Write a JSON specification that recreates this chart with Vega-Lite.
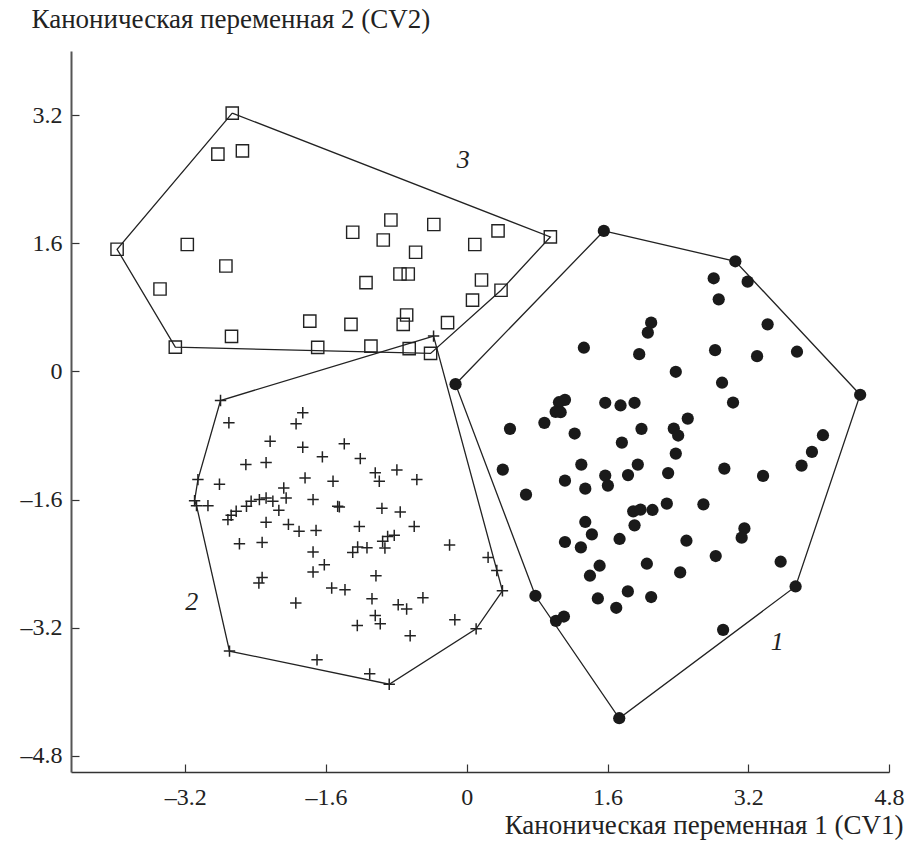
{
  "$schema": "https://vega.github.io/schema/vega-lite/v6.json",
  "width": 818,
  "height": 721,
  "autosize": {"type": "none"},
  "padding": {"left": 71, "top": 51, "right": 18, "bottom": 83},
  "background": "white",
  "config": {"view": {"stroke": null}, "font": "Liberation Serif"},
  "datasets": {
    "g1": [
      {"x":1.558,"y":1.754},{"x":3.053,"y":1.375},{"x":2.807,"y":1.163},{"x":3.193,"y":1.121},{"x":2.864,"y":0.9},
      {"x":2.096,"y":0.609},{"x":2.058,"y":0.484},{"x":3.42,"y":0.588},{"x":1.331,"y":0.296},{"x":1.96,"y":0.216},
      {"x":2.823,"y":0.266},{"x":3.3,"y":0.191},{"x":3.754,"y":0.246},{"x":2.376,"y":-0.004},{"x":-0.128,"y":-0.159},
      {"x":4.472,"y":-0.291},{"x":2.902,"y":-0.141},{"x":3.027,"y":-0.388},{"x":1.116,"y":-0.354},{"x":1.048,"y":-0.384},
      {"x":1.01,"y":-0.504},{"x":1.067,"y":-0.509},{"x":1.574,"y":-0.391},{"x":1.748,"y":-0.425},{"x":1.907,"y":-0.391},
      {"x":2.512,"y":-0.588},{"x":0.491,"y":-0.716},{"x":0.882,"y":-0.641},{"x":1.226,"y":-0.775},{"x":1.986,"y":-0.716},
      {"x":2.353,"y":-0.713},{"x":2.403,"y":-0.8},{"x":1.763,"y":-0.888},{"x":2.376,"y":-1.025},{"x":4.049,"y":-0.796},
      {"x":3.924,"y":-1.004},{"x":3.806,"y":-1.175},{"x":0.409,"y":-1.225},{"x":1.302,"y":-1.163},{"x":1.944,"y":-1.163},
      {"x":2.928,"y":-1.213},{"x":2.289,"y":-1.269},{"x":3.368,"y":-1.304},{"x":1.116,"y":-1.363},{"x":1.574,"y":-1.3},
      {"x":1.833,"y":-1.294},{"x":1.347,"y":-1.463},{"x":1.604,"y":-1.425},{"x":0.673,"y":-1.538},{"x":1.892,"y":-1.746},
      {"x":1.975,"y":-1.725},{"x":2.111,"y":-1.729},{"x":2.274,"y":-1.65},{"x":2.69,"y":-1.659},{"x":1.347,"y":-1.879},
      {"x":1.907,"y":-1.921},{"x":1.422,"y":-2.034},{"x":1.116,"y":-2.129},{"x":1.297,"y":-2.196},{"x":1.737,"y":-2.091},
      {"x":2.497,"y":-2.113},{"x":3.156,"y":-1.959},{"x":3.125,"y":-2.075},{"x":2.83,"y":-2.304},{"x":3.568,"y":-2.375},
      {"x":1.51,"y":-2.425},{"x":1.4,"y":-2.55},{"x":2.047,"y":-2.4},{"x":2.426,"y":-2.509},{"x":0.78,"y":-2.8},
      {"x":3.738,"y":-2.684},{"x":1.49,"y":-2.834},{"x":1.831,"y":-2.746},{"x":2.096,"y":-2.816},{"x":1.699,"y":-2.95},
      {"x":1.014,"y":-3.113},{"x":1.104,"y":-3.059},{"x":2.914,"y":-3.225},{"x":1.733,"y":-4.329}
    ],
    "g2": [
      {"x":-0.378,"y":0.441},{"x":-2.8,"y":-0.363},{"x":-2.705,"y":-0.641},{"x":-1.865,"y":-0.516},{"x":-1.941,"y":-0.654},
      {"x":-2.236,"y":-0.871},{"x":-1.865,"y":-0.946},{"x":-1.393,"y":-0.904},{"x":-1.642,"y":-1.066},{"x":-1.211,"y":-1.088},
      {"x":-2.512,"y":-1.163},{"x":-2.282,"y":-1.138},{"x":-1.041,"y":-1.266},{"x":-0.795,"y":-1.229},{"x":-0.995,"y":-1.371},
      {"x":-0.568,"y":-1.35},{"x":-3.057,"y":-1.35},{"x":-2.812,"y":-1.409},{"x":-1.839,"y":-1.329},{"x":-1.521,"y":-1.371},
      {"x":-2.081,"y":-1.454},{"x":-3.095,"y":-1.613},{"x":-3.073,"y":-1.675},{"x":-2.943,"y":-1.675},{"x":-2.452,"y":-1.621},
      {"x":-2.358,"y":-1.6},{"x":-2.282,"y":-1.579},{"x":-2.205,"y":-1.621},{"x":-2.054,"y":-1.579},{"x":-1.748,"y":-1.6},
      {"x":-1.468,"y":-1.684},{"x":-1.449,"y":-1.691},{"x":-0.965,"y":-1.709},{"x":-0.757,"y":-1.754},{"x":-2.505,"y":-1.684},
      {"x":-2.622,"y":-1.746},{"x":-2.679,"y":-1.796},{"x":-2.716,"y":-1.85},{"x":-2.137,"y":-1.734},{"x":-2.282,"y":-1.884},
      {"x":-2.028,"y":-1.909},{"x":-1.907,"y":-1.996},{"x":-1.714,"y":-1.984},{"x":-1.222,"y":-1.934},{"x":-0.598,"y":-1.934},
      {"x":-0.9,"y":-2.059},{"x":-0.825,"y":-2.046},{"x":-0.957,"y":-2.121},{"x":-0.931,"y":-2.204},{"x":-2.585,"y":-2.15},
      {"x":-2.327,"y":-2.134},{"x":-1.748,"y":-2.254},{"x":-1.297,"y":-2.259},{"x":-1.241,"y":-2.191},{"x":-1.135,"y":-2.2},
      {"x":-0.196,"y":-2.166},{"x":0.242,"y":-2.321},{"x":0.341,"y":-2.484},{"x":0.405,"y":-2.738},{"x":-1.62,"y":-2.413},
      {"x":-1.748,"y":-2.504},{"x":-1.033,"y":-2.55},{"x":-2.327,"y":-2.571},{"x":-2.364,"y":-2.641},{"x":-1.536,"y":-2.704},
      {"x":-1.385,"y":-2.725},{"x":-1.944,"y":-2.891},{"x":-1.078,"y":-2.838},{"x":-0.499,"y":-2.825},{"x":-0.78,"y":-2.913},
      {"x":-0.684,"y":-2.966},{"x":-1.041,"y":-3.046},{"x":-0.984,"y":-3.15},{"x":-1.245,"y":-3.171},{"x":-0.136,"y":-3.1},
      {"x":0.106,"y":-3.213},{"x":-0.644,"y":-3.3},{"x":-2.698,"y":-3.491},{"x":-1.703,"y":-3.6},{"x":-1.104,"y":-3.775},
      {"x":-0.882,"y":-3.904}
    ],
    "g3": [
      {"x":-2.667,"y":3.225},{"x":-2.83,"y":2.713},{"x":-2.551,"y":2.754},{"x":-3.976,"y":1.525},{"x":-3.178,"y":1.584},
      {"x":-2.739,"y":1.316},{"x":-3.488,"y":1.029},{"x":-3.314,"y":0.304},{"x":-2.675,"y":0.438},{"x":-1.297,"y":1.738},
      {"x":-0.863,"y":1.891},{"x":-0.95,"y":1.641},{"x":-0.375,"y":1.834},{"x":-0.582,"y":1.488},{"x":0.091,"y":1.584},
      {"x":0.355,"y":1.754},{"x":0.95,"y":1.679},{"x":-1.146,"y":1.109},{"x":-0.76,"y":1.216},{"x":-0.666,"y":1.216},
      {"x":0.167,"y":1.141},{"x":0.389,"y":1.013},{"x":0.065,"y":0.891},{"x":-1.785,"y":0.629},{"x":-1.317,"y":0.588},
      {"x":-0.684,"y":0.704},{"x":-0.723,"y":0.588},{"x":-0.219,"y":0.609},{"x":-1.695,"y":0.3},{"x":-1.09,"y":0.316},
      {"x":-0.655,"y":0.284},{"x":-0.412,"y":0.225}
    ],
    "hull": [
      {"g":"1","i":0,"x":1.558,"y":1.754},{"g":"1","i":1,"x":3.053,"y":1.375},{"g":"1","i":2,"x":4.472,"y":-0.291},
      {"g":"1","i":3,"x":3.738,"y":-2.684},{"g":"1","i":4,"x":1.733,"y":-4.329},{"g":"1","i":5,"x":0.78,"y":-2.8},
      {"g":"1","i":6,"x":-0.128,"y":-0.159},{"g":"1","i":7,"x":1.558,"y":1.754},
      {"g":"2","i":0,"x":-0.378,"y":0.441},{"g":"2","i":1,"x":0.405,"y":-2.738},{"g":"2","i":2,"x":0.106,"y":-3.213},
      {"g":"2","i":3,"x":-0.882,"y":-3.904},{"g":"2","i":4,"x":-2.698,"y":-3.491},{"g":"2","i":5,"x":-3.073,"y":-1.675},
      {"g":"2","i":6,"x":-3.095,"y":-1.613},{"g":"2","i":7,"x":-3.057,"y":-1.35},{"g":"2","i":8,"x":-2.8,"y":-0.363},
      {"g":"2","i":9,"x":-0.378,"y":0.441},
      {"g":"3","i":0,"x":-2.667,"y":3.225},{"g":"3","i":1,"x":0.95,"y":1.679},{"g":"3","i":2,"x":0.389,"y":1.013},
      {"g":"3","i":3,"x":-0.412,"y":0.225},{"g":"3","i":4,"x":-3.314,"y":0.304},{"g":"3","i":5,"x":-3.976,"y":1.525},
      {"g":"3","i":6,"x":-2.667,"y":3.225}
    ],
    "labels": [
      {"t":"1","x":3.53,"y":-3.381},
      {"t":"2","x":-3.128,"y":-2.874},
      {"t":"3","x":-0.04,"y":2.64}
    ]
  },
  "encoding": {
    "x": {
      "field": "x", "type": "quantitative",
      "scale": {"domain": [-4.5, 4.8], "nice": false, "zero": false},
      "axis": {
        "title": "Каноническая переменная 1 (CV1)",
        "values": [-3.2, -1.6, 0, 1.6, 3.2, 4.8],
        "labelExpr": "datum.value == 0 ? '0' : (datum.value < 0 ? '–' : '') + format(abs(datum.value), '.1f')",
        "grid": false,
        "tickSize": -8,
        "labelPadding": 21,
        "labelFlush": false,
        "labelOverlap": false,
        "labelFont": "Liberation Serif",
        "labelFontSize": 24,
        "labelColor": "#222",
        "domainColor": "#333",
        "domainWidth": 1.5,
        "tickColor": "#333",
        "tickWidth": 1.2,
        "titleFont": "Liberation Serif",
        "titleFontSize": 27,
        "titleFontWeight": "normal",
        "titleColor": "#222",
        "titleAlign": "right",
        "titleBaseline": "alphabetic",
        "titleAnchor": null,
        "titleX": 832,
        "titleY": 61
      }
    },
    "y": {
      "field": "y", "type": "quantitative",
      "scale": {"domain": [-5, 4], "nice": false, "zero": false},
      "axis": {
        "title": "Каноническая переменная 2 (CV2)",
        "values": [-4.8, -3.2, -1.6, 0, 1.6, 3.2],
        "labelExpr": "datum.value == 0 ? '0' : (datum.value < 0 ? '–' : '') + format(abs(datum.value), '.1f')",
        "grid": false,
        "tickSize": -8,
        "labelPadding": 17,
        "labelFlush": false,
        "labelOverlap": false,
        "labelFont": "Liberation Serif",
        "labelFontSize": 24,
        "labelColor": "#222",
        "domainColor": "#555",
        "domainWidth": 2,
        "tickColor": "#333",
        "tickWidth": 1.2,
        "titleFont": "Liberation Serif",
        "titleFontSize": 27,
        "titleFontWeight": "normal",
        "titleColor": "#222",
        "titleAngle": 0,
        "titleAlign": "left",
        "titleBaseline": "alphabetic",
        "titleAnchor": null,
        "titleX": -40,
        "titleY": -24
      }
    }
  },
  "layer": [
    {
      "data": {"name": "hull"},
      "mark": {"type": "line", "color": "#222", "strokeWidth": 1.3},
      "encoding": {
        "detail": {"field": "g"},
        "order": {"field": "i", "type": "quantitative"}
      }
    },
    {
      "data": {"name": "g1"},
      "mark": {"type": "point", "shape": "circle", "filled": true, "color": "#1a1a1a", "size": 150, "opacity": 1, "strokeWidth": 0}
    },
    {
      "data": {"name": "g2"},
      "mark": {"type": "point", "shape": "M-1,0H1M0,-1V1", "filled": false, "color": "#222", "strokeWidth": 1.5, "size": 130, "opacity": 1}
    },
    {
      "data": {"name": "g3"},
      "mark": {"type": "point", "shape": "square", "filled": false, "color": "#222", "strokeWidth": 1.4, "size": 150, "opacity": 1}
    },
    {
      "data": {"name": "labels"},
      "mark": {"type": "text", "font": "Liberation Serif", "fontStyle": "italic", "fontSize": 26, "color": "#222", "align": "center", "baseline": "middle"},
      "encoding": {"text": {"field": "t"}}
    }
  ]
}
